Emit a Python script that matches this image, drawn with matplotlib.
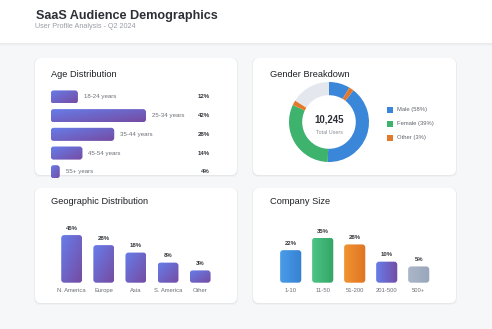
import matplotlib
matplotlib.use("Agg")
import matplotlib.pyplot as plt
import numpy as np
from matplotlib.patches import FancyBboxPatch, Rectangle
from matplotlib.colors import LinearSegmentedColormap

plt.rcParams['font.family'] = ['Liberation Sans', 'DejaVu Sans']

# ---- data ----
age_groups = ['18-24 years', '25-34 years', '35-44 years', '45-54 years', '55+ years']
age_share = [12, 42, 28, 14, 4]

gender_labels = ['Male (58%)', 'Female (39%)', 'Other (3%)']
gender_colors = ['#3a86d8', '#3db36e', '#e5792b']
total_users = 10245
# ring arcs, clockwise from the top
ring_segments = [8.5, 2, 40, 31.5, 2, 16]
ring_colors = ['#3a86d8', '#e5792b', '#3a86d8', '#3db36e', '#e5792b', '#e4e8ee']

regions = ['N. America', 'Europe', 'Asia', 'S. America', 'Other']
region_share = [45, 28, 18, 8, 3]

company_sizes = ['1-10', '11-50', '51-200', '201-500', '500+']
company_share = [22, 35, 28, 10, 5]
company_grad = [('#4a9de9', '#3580d2'), ('#4cc486', '#33a665'), ('#f19331', '#df7424'),
                ('#667eea', '#764ba2'), ('#acb7c9', '#98a6bb')]

PURPLE = ('#667eea', '#764ba2')

W, H = 492, 329
fig = plt.figure(figsize=(W / 100, H / 100), dpi=100)
fig.patch.set_facecolor('#f6f7f9')

bg = fig.add_axes([0, 0, 1, 1])
bg.set_xlim(0, W)
bg.set_ylim(H, 0)
bg.axis('off')


def px_axes(x0, y0, x1, y1):
    ax = fig.add_axes([x0 / W, 1 - y1 / H, (x1 - x0) / W, (y1 - y0) / H])
    ax.patch.set_alpha(0)
    return ax


def to_px(ax, x, y):
    d = ax.transData.transform((x, y))
    return d[0], H - d[1]


def gradient_box(x0, y0, x1, y1, c0, c1, mode='diag', r=3, z=3):
    box = FancyBboxPatch((x0, y0), x1 - x0, y1 - y0,
                         boxstyle=f"round,pad=0,rounding_size={r}",
                         fc='none', ec='none')
    bg.add_patch(box)
    u = np.linspace(0, 1, 64)
    if mode == 'h':
        g = np.tile(u, (64, 1))
    else:
        g = (u[None, :] + u[:, None]) / 2
    cmap = LinearSegmentedColormap.from_list('g', [c0, c1])
    im = bg.imshow(g, cmap=cmap, extent=(x0, x1, y1, y0), aspect='auto',
                   interpolation='bilinear', vmin=0, vmax=1, zorder=z)
    im.set_clip_path(box)


def bars_to_gradient(ax, bars, colors, mode):
    for b, (c0, c1) in zip(bars, colors):
        x, y, w, h = b.get_x(), b.get_y(), b.get_width(), b.get_height()
        px0, py0 = to_px(ax, x, y)
        px1, py1 = to_px(ax, x + w, y + h)
        b.set_visible(False)
        gradient_box(min(px0, px1), min(py0, py1), max(px0, px1), max(py0, py1),
                     c0, c1, mode)


# header
bg.add_patch(Rectangle((0, 0), W, 43, fc='white', ec='none', zorder=1))
for k, a in enumerate([0.05, 0.03, 0.015]):
    bg.add_patch(Rectangle((0, 43 + k), W, 1, fc='black', alpha=a, ec='none', zorder=1))
bg.text(36, 19, 'SaaS Audience Demographics', fontsize=9.1, fontweight='bold',
        color='#2b2f36', va='baseline', zorder=2)
bg.text(35, 28.5, 'User Profile Analysis - Q2 2024', fontsize=5.2, color='#9a9ea6',
        va='baseline', zorder=2)

# cards
cards = [(35, 58, 237, 175), (253, 58, 456, 175), (35, 188, 237, 303), (253, 188, 456, 303)]
for x0, y0, x1, y1 in cards:
    for off, a in [(2.0, 0.025), (1.0, 0.04)]:
        bg.add_patch(FancyBboxPatch((x0 - off / 2, y0), x1 - x0 + off, y1 - y0 + off,
                                    boxstyle="round,pad=0,rounding_size=6",
                                    fc='black', alpha=a, ec='none', zorder=1))
    bg.add_patch(FancyBboxPatch((x0, y0), x1 - x0, y1 - y0,
                                boxstyle="round,pad=0,rounding_size=6",
                                fc='white', ec='none', zorder=1.5))

title_kw = dict(fontsize=6.7, color='#1f2226', va='baseline', zorder=2)
bg.text(51, 77, 'Age Distribution', **title_kw)
bg.text(270, 77, 'Gender Breakdown', **title_kw)
bg.text(51, 204, 'Geographic Distribution', **title_kw)
bg.text(270, 204, 'Company Size', **title_kw)

# age distribution
ax_age = px_axes(50.7, 87.6, 210, 181.1)
ax_age.set_xlim(0, 70.2)
ax_age.set_ylim(4.5, -0.5)
ax_age.axis('off')
age_bars = ax_age.barh(range(len(age_share)), age_share, height=0.7)
bars_to_gradient(ax_age, age_bars, [PURPLE] * len(age_share), 'diag')
for i, (lab, v) in enumerate(zip(age_groups, age_share)):
    ax_age.text(v + 2.6, i, lab, va='center', fontsize=4.4, color='#6b6f76')
    ax_age.text(1.0, i, f'{v}%', transform=ax_age.get_yaxis_transform(),
                ha='right', va='center', fontsize=4.4, fontweight='bold', color='#33363b')

# gender donut
ax_d = px_axes(289, 82, 369, 162)
ax_d.pie(ring_segments, colors=ring_colors, startangle=90, counterclock=False,
         radius=1, wedgeprops=dict(width=0.33, linewidth=0))
ax_d.set_xlim(-1, 1)
ax_d.set_ylim(-1, 1)
ax_d.set_aspect('equal')
ax_d.text(0, 0.07, f'{total_users:,}', ha='center', va='center', fontsize=6.9,
          fontweight='bold', color='#2b2f36')
ax_d.text(0, -0.25, 'Total Users', ha='center', va='center', fontsize=3.9, color='#8b8f96')

for k, (lab, c) in enumerate(zip(gender_labels, gender_colors)):
    yc = 109.5 + 14 * k
    bg.add_patch(Rectangle((386.7, yc - 3), 6, 6, fc=c, ec='none', zorder=2))
    bg.text(397, yc, lab, fontsize=4.2, color='#5f636a', va='center', zorder=2)


def style_columns(ax, labels):
    ax.set_xlim(-0.5, len(labels) - 0.5)
    ax.set_xticks(range(len(labels)), labels)
    ax.tick_params(axis='x', length=0, pad=4, labelsize=4.2, labelcolor='#6b6f76')
    ax.set_yticks([])
    for s in ax.spines.values():
        s.set_visible(False)


# geographic distribution
ax_g = px_axes(55.6, 225.9, 216.2, 282.7)
ax_g.set_yscale('function', functions=(np.sqrt, np.square))
ax_g.set_ylim(0, 64)
style_columns(ax_g, regions)
geo_bars = ax_g.bar(range(len(region_share)), region_share, width=0.65)
bars_to_gradient(ax_g, geo_bars, [PURPLE] * len(region_share), 'diag')
for i, v in enumerate(region_share):
    ax_g.annotate(f'{v}%', (i, v), xytext=(0, 3), textcoords='offset points',
                  ha='center', va='bottom', fontsize=4.3, fontweight='bold', color='#33363b')

# company size
STUB = 12
ax_c = px_axes(274.7, 230, 434.7, 282.7)
ax_c.set_ylim(-STUB, 43.07)
style_columns(ax_c, company_sizes)
size_bars = ax_c.bar(range(len(company_share)), np.array(company_share) + STUB,
                     bottom=-STUB, width=0.66)
bars_to_gradient(ax_c, size_bars, company_grad, 'h')
for i, v in enumerate(company_share):
    ax_c.annotate(f'{v}%', (i, v), xytext=(0, 3), textcoords='offset points',
                  ha='center', va='bottom', fontsize=4.3, fontweight='bold', color='#33363b')

bg.set_xlim(0, W)
bg.set_ylim(H, 0)
fig.savefig('out.png', dpi=100, facecolor=fig.get_facecolor())
